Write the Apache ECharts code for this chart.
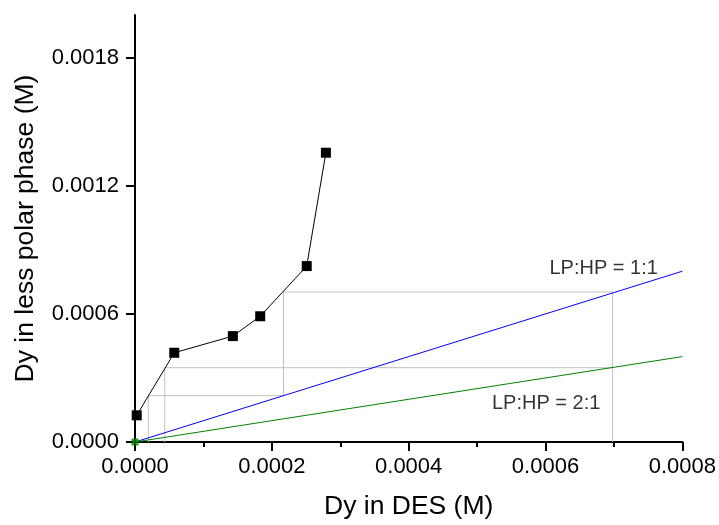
<!DOCTYPE html>
<html>
<head>
<meta charset="utf-8">
<script src="https://cdn.jsdelivr.net/npm/echarts@6/dist/echarts.min.js"></script>
<style>html,body{margin:0;padding:0;background:#fff}#c{width:719px;height:525px}</style>
</head>
<body>
<div id="c"></div>
<script>
// Measured data: Dy in DES (M) vs Dy in less polar phase (M)
var desX = [0.0000025, 0.0000574, 0.000143, 0.000183, 0.000251, 0.000279];
var lpY  = [0.000125, 0.000418, 0.000496, 0.000589, 0.000824, 0.001355];
// Reference ratio lines LP:HP
var ratio11 = [[0, 0], [0.0008, 0.0008]];
var ratio21 = [[0, 0], [0.0008, 0.0004]];
// Gray construction (drop) lines
var guide1 = [[0.0000195, 0], [0.0000195, 0.000217], [0.000217, 0.000217], [0.000217, 0.000703], [0.000698, 0.000703], [0.000698, 0]];
var guide2 = [[0.0000435, 0], [0.0000435, 0.000348], [0.000698, 0.000348]];
var yTicks = [0, 0.0006, 0.0012, 0.0018];
var annotations = [
  {name: 'LP:HP = 1:1', value: [0.000685, 0.000812]},
  {name: 'LP:HP = 2:1', value: [0.000601, 0.000182]}
];

var FONT = 'Liberation Sans, Arial, sans-serif';
var chart = echarts.init(document.getElementById('c'), null, {renderer: 'canvas'});
var pts = desX.map(function (x, i) { return [x, lpY[i]]; });

chart.setOption({
  animation: false,
  backgroundColor: '#fff',
  grid: {left: 135, right: 36, top: 15, bottom: 81, containLabel: false},
  xAxis: {
    type: 'value', min: 0, max: 0.0008, interval: 0.0002,
    name: 'Dy in DES (M)', nameLocation: 'middle', nameGap: 51,
    nameTextStyle: {fontFamily: FONT, fontSize: 26.5, color: '#000'},
    axisLine: {show: true, onZero: false, lineStyle: {color: '#000', width: 2}},
    axisTick: {show: true, inside: false, length: 9, lineStyle: {color: '#000', width: 2}},
    minorTick: {show: true, splitNumber: 2, length: 5, lineStyle: {color: '#000', width: 2}},
    axisLabel: {fontFamily: FONT, fontSize: 22, color: '#000', margin: 14,
      formatter: function (v) { return v.toFixed(4); }},
    splitLine: {show: false}
  },
  yAxis: {
    type: 'value', min: 0, max: 0.002,
    name: 'Dy in less polar phase (M)', nameLocation: 'middle', nameGap: 96,
    nameTextStyle: {fontFamily: FONT, fontSize: 26.5, color: '#000'},
    axisLine: {show: true, onZero: false, lineStyle: {color: '#000', width: 2}},
    axisTick: {show: true, inside: false, length: 9, customValues: yTicks, lineStyle: {color: '#000', width: 2}},
    axisLabel: {fontFamily: FONT, fontSize: 22, color: '#000', margin: 16, customValues: yTicks,
      formatter: function (v) { return v.toFixed(4); }},
    splitLine: {show: false}
  },
  series: [
    {type: 'line', data: guide1, showSymbol: false, symbol: 'none', silent: true,
      lineStyle: {color: '#c0c0c0', width: 1}, z: 1},
    {type: 'line', data: guide2, showSymbol: false, symbol: 'none', silent: true,
      lineStyle: {color: '#c0c0c0', width: 1}, z: 1},
    {type: 'line', data: ratio11, showSymbol: false, symbol: 'none',
      lineStyle: {color: '#0000ff', width: 1}, z: 2},
    {type: 'line', data: ratio21, showSymbol: false, symbol: 'none',
      lineStyle: {color: '#008000', width: 1}, z: 2},
    {type: 'scatter', data: [ratio21[0]], symbol: 'rect', symbolSize: 7,
      itemStyle: {color: '#008000'}, z: 3},
    {type: 'line', data: pts, symbol: 'rect', symbolSize: 10, showSymbol: true,
      lineStyle: {color: '#000', width: 1}, itemStyle: {color: '#000'}, z: 4},
    {type: 'scatter', data: annotations, symbolSize: 0, silent: true, z: 5,
      label: {show: true, position: 'inside', formatter: '{b}', fontFamily: FONT, fontSize: 20, color: '#000'}}
  ]
});
</script>
</body>
</html>
